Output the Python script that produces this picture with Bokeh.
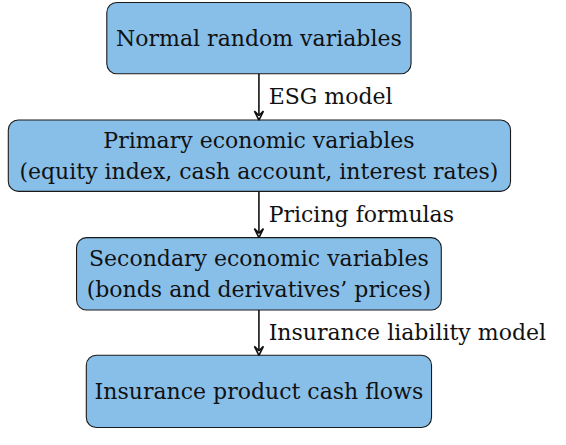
from bokeh.plotting import figure
from bokeh.models import Range1d, Arrow, VeeHead
from bokeh.core.properties import value
from bokeh.embed import file_html
from bokeh.resources import INLINE

# ---- content ----
box_lines = [
    ["Normal random variables"],
    ["Primary economic variables", "(equity index, cash account, interest rates)"],
    ["Secondary economic variables", "(bonds and derivatives\u2019 prices)"],
    ["Insurance product cash flows"],
]
edge_labels = ["ESG model", "Pricing formulas", "Insurance liability model"]

# ---- layout (in reference pixel coordinates) ----
box_left = [111, 10, 80, 90]
box_right = [423, 525, 454, 444]
box_top = [3, 125, 247, 369]
box_bottom = [77, 199, 322, 444]
cx = 267
line_gap = 32
FONT = "DejaVu Serif"
FS = "22px"

W, H = 550, 429
p = figure(width=W, height=H, output_backend="svg", toolbar_location=None,
           x_range=Range1d(2, 566), y_range=Range1d(446, 1),
           min_border=0)
p.axis.visible = False
p.grid.visible = False
p.outline_line_color = None
p.background_fill_color = "white"
p.border_fill_color = "white"

p.quad(left=box_left, right=box_right, top=box_top, bottom=box_bottom,
       fill_color="#88bfe9", line_color="#1a1a1a", line_width=1.1,
       border_radius=10)

# texts in boxes
tx, ty, tt = [], [], []
for i, lines in enumerate(box_lines):
    mid = (box_top[i] + box_bottom[i]) / 2
    n = len(lines)
    for j, s in enumerate(lines):
        tx.append(cx)
        ty.append(mid + (j - (n - 1) / 2) * line_gap)
        tt.append(s)
p.text(x=tx, y=ty, text=tt, text_align="center", text_baseline="middle",
       text_font=value(FONT), text_font_size=FS, text_color="#111111")

# arrows
for i in range(3):
    p.add_layout(Arrow(end=VeeHead(size=9, line_color="#111111", line_width=1.6, fill_color=None),
                       x_start=cx, y_start=box_bottom[i], x_end=cx, y_end=box_top[i + 1],
                       line_color="#111111", line_width=1.6))
ex = [cx + 10] * 3
ey = [(box_bottom[i] + box_top[i + 1]) / 2 for i in range(3)]
p.text(x=ex, y=ey, text=edge_labels, text_align="left", text_baseline="middle",
       text_font=value(FONT), text_font_size=FS, text_color="#111111")

open("out.html", "w").write(file_html(p, INLINE))
